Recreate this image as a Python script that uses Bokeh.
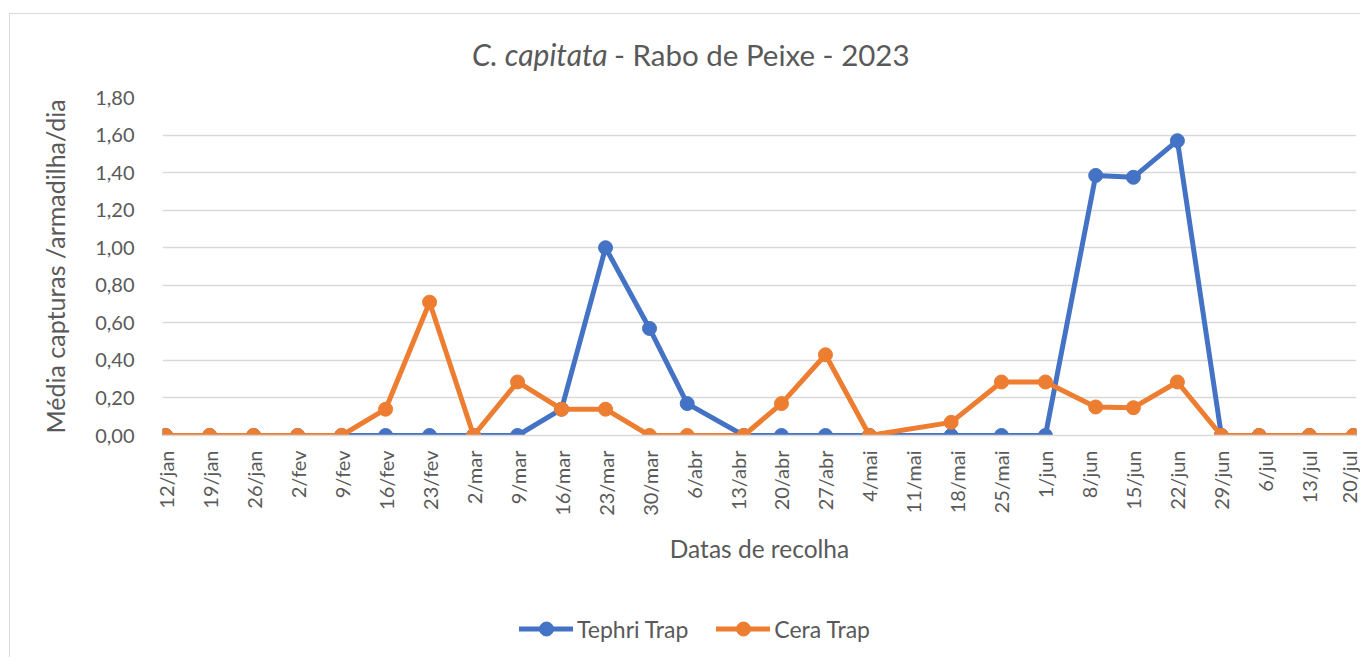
import numpy as np
import pandas as pd
from bokeh.plotting import figure
from bokeh.layouts import column
from bokeh.models import Range1d, FixedTicker, Legend, LegendItem, ColumnDataSource
from bokeh.embed import file_html
from bokeh.resources import INLINE

# ---------------- data ----------------
title_italic = "C. capitata"
title_rest = "- Rabo de Peixe - 2023"
x_title = "Datas de recolha"
y_title = "Média capturas /armadilha/dia"

tick_dates = ["2023-01-12", "2023-01-19", "2023-01-26", "2023-02-02", "2023-02-09",
              "2023-02-16", "2023-02-23", "2023-03-02", "2023-03-09", "2023-03-16",
              "2023-03-23", "2023-03-30", "2023-04-06", "2023-04-13", "2023-04-20",
              "2023-04-27", "2023-05-04", "2023-05-11", "2023-05-18", "2023-05-25",
              "2023-06-01", "2023-06-08", "2023-06-15", "2023-06-22", "2023-06-29",
              "2023-07-06", "2023-07-13", "2023-07-20"]
tick_labels = ["12/jan", "19/jan", "26/jan", "2/fev", "9/fev", "16/fev", "23/fev",
               "2/mar", "9/mar", "16/mar", "23/mar", "30/mar", "6/abr", "13/abr",
               "20/abr", "27/abr", "4/mai", "11/mai", "18/mai", "25/mai", "1/jun",
               "8/jun", "15/jun", "22/jun", "29/jun", "6/jul", "13/jul", "20/jul"]

sample_dates = ["2023-01-12", "2023-01-19", "2023-01-26", "2023-02-02", "2023-02-09",
                "2023-02-16", "2023-02-23", "2023-03-02", "2023-03-09", "2023-03-16",
                "2023-03-23", "2023-03-30", "2023-04-05", "2023-04-14", "2023-04-20",
                "2023-04-27", "2023-05-04", "2023-05-17", "2023-05-25", "2023-06-01",
                "2023-06-09", "2023-06-15", "2023-06-22", "2023-06-29", "2023-07-05",
                "2023-07-13", "2023-07-20"]
tephri = [0, 0, 0, 0, 0, 0, 0, 0, 0, 0.14, 1.00, 0.57, 0.17, 0, 0, 0, 0, 0, 0, 0,
          1.385, 1.375, 1.57, 0, 0, 0, 0]
cera = [0, 0, 0, 0, 0, 0.14, 0.71, 0, 0.285, 0.14, 0.14, 0, 0, 0, 0.17, 0.43, 0, 0.07,
        0.285, 0.285, 0.152, 0.148, 0.285, 0, 0, 0, 0]

y_ticks = [0.0, 0.2, 0.4, 0.6, 0.8, 1.0, 1.2, 1.4, 1.6, 1.8]
y_tick_labels = ["0,00", "0,20", "0,40", "0,60", "0,80", "1,00", "1,20", "1,40", "1,60", "1,80"]

series_names = ["Tephri Trap", "Cera Trap"]
series_colors = ["#4472C4", "#ED7D31"]

# ---------------- style ----------------
FONT = "Lato"
TXT = "#595959"
GRID = "#d9d9d9"
W = 1350
LW = 5
MS = 14


def strip(height):
    """Axis-less figure whose frame covers the whole canvas."""
    f = figure(frame_width=W, frame_height=height, min_border=0,
               x_range=Range1d(0, W), y_range=Range1d(0, height),
               x_axis_location=None, y_axis_location=None,
               output_backend="svg", toolbar_location=None,
               outline_line_color=None, background_fill_color="white",
               border_fill_color="white")
    f.grid.visible = False
    return f


def plain_legend(f, items, x0, y0, **kw):
    lgd = Legend(items=items, orientation="horizontal", location=(x0, y0),
                 padding=0, margin=0, border_line_color=None, background_fill_alpha=0,
                 label_text_font=FONT, label_text_color=TXT, **kw)
    f.add_layout(lgd)
    return lgd


# ---- title strip: italic species name + rest, as two text-only legend entries ----
TH = 63
t = strip(TH)
ghost = ColumnDataSource(dict(x=[-500], y=[-500]))
g = t.scatter("x", "y", source=ghost, size=1, fill_alpha=0, line_alpha=0)
plain_legend(t, [LegendItem(label=title_italic, renderers=[g])], 462, 5,
             glyph_width=0, glyph_height=35, label_standoff=0,
             label_text_font_size="30px", label_text_font_style="italic")
plain_legend(t, [LegendItem(label=title_rest, renderers=[g])], 604, 5,
             glyph_width=0, glyph_height=35, label_standoff=0,
             label_text_font_size="29.5px", label_text_font_style="normal")

# ---- main chart ----
x = pd.to_datetime(sample_dates)
tick_ms = [float(v) for v in (pd.to_datetime(tick_dates).astype("int64") // 10**6)]
day = 86400000.0
x_start = tick_ms[0] - 0.5 * day
x_end = tick_ms[-1] + 0.5 * day

p = figure(x_axis_type="datetime", frame_width=1194, frame_height=338,
           min_border_left=152, min_border_right=4, min_border_top=20, min_border_bottom=165,
           x_range=Range1d(x_start, x_end), y_range=Range1d(0, 1.8),
           output_backend="svg", toolbar_location=None,
           background_fill_color="white", border_fill_color="white",
           outline_line_color=None)

p.xaxis.ticker = FixedTicker(ticks=tick_ms)
p.xaxis.major_label_overrides = dict(zip(tick_ms, tick_labels))
p.xaxis.major_label_orientation = np.pi / 2
p.xaxis.major_tick_line_color = None
p.xaxis.minor_tick_line_color = None
p.xaxis.axis_line_color = GRID
p.xaxis.axis_line_width = 1.3
p.xaxis.major_label_standoff = 9
p.xaxis.major_label_text_font = FONT
p.xaxis.major_label_text_font_size = "20px"
p.xaxis.major_label_text_color = TXT
p.xaxis.axis_label = x_title
p.xaxis.axis_label_text_font = FONT
p.xaxis.axis_label_text_font_style = "normal"
p.xaxis.axis_label_text_font_size = "24.5px"
p.xaxis.axis_label_text_color = TXT
p.xaxis.axis_label_standoff = 15

p.yaxis.ticker = FixedTicker(ticks=y_ticks)
p.yaxis.major_label_overrides = dict(zip(y_ticks, y_tick_labels))
p.yaxis.axis_line_color = None
p.yaxis.major_tick_line_color = None
p.yaxis.minor_tick_line_color = None
p.yaxis.major_label_standoff = 22
p.yaxis.major_label_text_font = FONT
p.yaxis.major_label_text_font_size = "20px"
p.yaxis.major_label_text_color = TXT
p.yaxis.axis_label = y_title
p.yaxis.axis_label_text_font = FONT
p.yaxis.axis_label_text_font_style = "normal"
p.yaxis.axis_label_text_font_size = "25px"
p.yaxis.axis_label_text_color = TXT
p.yaxis.axis_label_standoff = 22

p.xgrid.grid_line_color = None
p.ygrid.grid_line_color = GRID
p.ygrid.grid_line_width = 1.3

for vals, col in zip([tephri, cera], series_colors):
    src = ColumnDataSource(dict(x=x, y=vals))
    p.line("x", "y", source=src, line_color=col, line_width=LW,
           line_join="round", line_cap="round")
    p.scatter("x", "y", source=src, size=MS, fill_color=col, line_color=col)

# ---- legend strip (proxy glyphs lie outside the strip's visible range) ----
LH = 57
lg = strip(LH)
items = []
for name, col in zip(series_names, series_colors):
    proxy = ColumnDataSource(dict(x=[-500, -400], y=[-500, -500]))
    ln = lg.line("x", "y", source=proxy, line_color=col, line_width=LW,
                 line_join="round", line_cap="round")
    sc = lg.scatter("x", "y", source=proxy, size=MS, fill_color=col, line_color=col)
    items.append(LegendItem(label=name, renderers=[ln, sc]))
plain_legend(lg, items, 509, 11, glyph_width=54, glyph_height=35, label_standoff=4,
             spacing=28, label_text_font_size="23px")

layout = column(t, p, lg, spacing=0)
layout.styles = {"margin-left": "9px", "margin-top": "13px",
                 "border-left": "1px solid #d9d9d9", "border-top": "1px solid #d9d9d9"}

open("out.html", "w").write(file_html(layout, INLINE))
